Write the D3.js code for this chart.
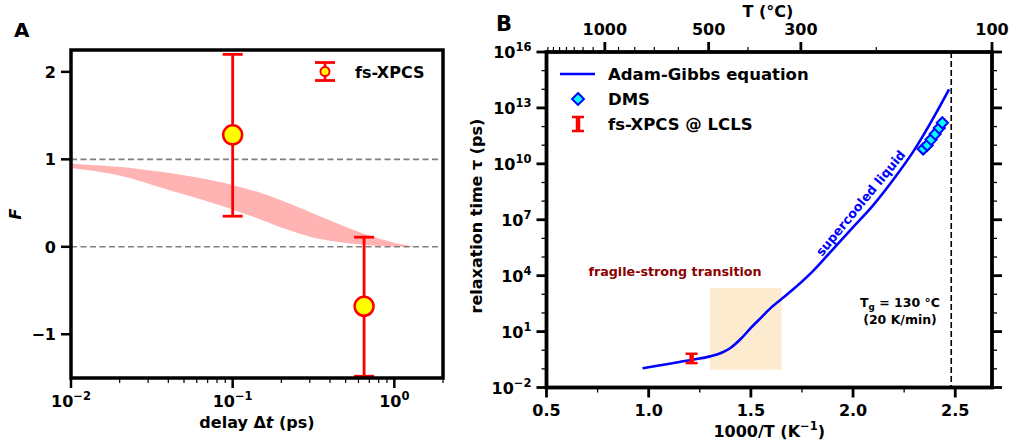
<!DOCTYPE html>
<html>
<head>
<meta charset="utf-8">
<script src="https://cdn.jsdelivr.net/npm/d3@7"></script>
<style>
  body { margin: 0; background: #fff; }
  svg text { font-family: "DejaVu Sans", sans-serif; font-weight: bold; fill: #000; }
</style>
</head>
<body>
<svg id="chart" width="1012" height="446"></svg>
<script>
// ---- panel A data ----
const bandDelay = [0.01, 0.02, 0.035, 0.05, 0.07, 0.1, 0.15, 0.22, 0.3, 0.45, 0.7, 1.0, 1.18, 1.35];
const bandUpper = [0.95, 0.92, 0.86, 0.82, 0.77, 0.71, 0.62, 0.50, 0.40, 0.26, 0.12, 0.045, 0.02, 0.0];
const bandLower = [0.90, 0.83, 0.68, 0.60, 0.52, 0.43, 0.31, 0.19, 0.11, 0.05, 0.013, 0.003, 0.0, 0.0];
const xpcsDelay = [0.1, 0.65];
const xpcsF = [1.28, -0.68];
const xpcsLow = [0.35, -1.48];
const xpcsHigh = [2.2, 0.11];
const fTicks = [-1, 0, 1, 2];
const delayTicks = [0.01, 0.1, 1];
const delayExp = ["−2", "−1", "0"];

// ---- panel B data ----
const agInvT = [0.97, 1.05, 1.15, 1.22, 1.3, 1.36, 1.4, 1.45, 1.5, 1.55, 1.6, 1.65, 1.7, 1.8, 1.9, 2.0, 2.1, 2.2, 2.3, 2.4, 2.47];
const agLogTau = [-0.97, -0.82, -0.63, -0.5, -0.33, -0.12, 0.12, 0.6, 1.2, 1.75, 2.3, 2.75, 3.2, 4.2, 5.4, 6.6, 7.8, 9.2, 10.75, 12.6, 14.0];
const dmsInvT = [2.343, 2.363, 2.382, 2.402, 2.422, 2.437];
const dmsLogTau = [10.8, 11.0, 11.3, 11.6, 11.92, 12.2];
const lclsInvT = [1.21];
const lclsLogTau = [-0.44];
const lclsLow = [-0.69];
const lclsHigh = [-0.19];
const tauExp = [-2, 1, 4, 7, 10, 13, 16];
const invTTicks = [0.5, 1.0, 1.5, 2.0, 2.5];
const invTMinor = [0.75, 1.25, 1.75, 2.25];
const tempTicks = [1000, 500, 300, 100];
const tempMinor = [1700, 1600, 1500, 1400, 1300, 1200, 1100, 900, 800, 700, 600, 400, 200];
const boxInvT = [1.3, 1.65];
const boxLogTau = [-1.05, 3.35];
const tgCelsius = 130;

const svg = d3.select("svg#chart");

/**
 * Writes "10" with a raised exponent into a text selection.
 */
function powLabel(sel, exp) {
  sel.text("10").append("tspan")
      .attr("dy", -7)
      .attr("font-size", "0.72em")
      .text(exp);
}

// ================= panel A =================
const a = {left: 71, right: 443, top: 50, bottom: 378};
const xA = d3.scaleLog().domain([0.01, 2]).range([a.left, a.right]);
const yA = d3.scaleLinear().domain([-1.5, 2.25]).range([a.bottom, a.top]);
const gA = svg.append("g");

const band = d3.area()
    .x((d, i) => xA(bandDelay[i]))
    .y0((d, i) => yA(bandLower[i]))
    .y1((d, i) => yA(bandUpper[i]))
    .curve(d3.curveBasis);
gA.append("path").datum(bandDelay)
    .attr("fill", "#ffb3b3")
    .attr("d", band);

[0, 1].forEach((v) => {
  gA.append("line")
      .attr("x1", a.left).attr("x2", a.right)
      .attr("y1", yA(v)).attr("y2", yA(v))
      .attr("stroke", "#808080").attr("stroke-width", 1.6)
      .attr("stroke-dasharray", "6,3.5");
});

xpcsDelay.forEach((t, i) => {
  const cx = xA(t);
  gA.append("line")
      .attr("x1", cx).attr("x2", cx)
      .attr("y1", yA(xpcsLow[i])).attr("y2", yA(xpcsHigh[i]))
      .attr("stroke", "red").attr("stroke-width", 2.8);
  [xpcsLow[i], xpcsHigh[i]].forEach((v) => {
    gA.append("line")
        .attr("x1", cx - 10).attr("x2", cx + 10)
        .attr("y1", yA(v)).attr("y2", yA(v))
        .attr("stroke", "red").attr("stroke-width", 2.8);
  });
  gA.append("circle")
      .attr("cx", cx).attr("cy", yA(xpcsF[i])).attr("r", 9.5)
      .attr("fill", "yellow").attr("stroke", "red").attr("stroke-width", 2.5);
});

// axes A
gA.append("rect")
    .attr("x", a.left).attr("y", a.top)
    .attr("width", a.right - a.left).attr("height", a.bottom - a.top)
    .attr("fill", "none").attr("stroke", "#000").attr("stroke-width", 3.5);

fTicks.forEach((v) => {
  gA.append("line")
      .attr("x1", a.left - 10).attr("x2", a.left)
      .attr("y1", yA(v)).attr("y2", yA(v))
      .attr("stroke", "#000").attr("stroke-width", 2.5);
  gA.append("text")
      .attr("x", a.left - 15).attr("y", yA(v) + 6)
      .attr("text-anchor", "end").attr("font-size", 16)
      .text(v < 0 ? "−" + (-v) : v);
});

const minorDelay = [];
[0.01, 0.1, 1].forEach((dec) => {
  for (let k = 2; k <= 9; k++) {
    if (dec * k <= 2) minorDelay.push(dec * k);
  }
});
minorDelay.forEach((t) => {
  gA.append("line")
      .attr("x1", xA(t)).attr("x2", xA(t))
      .attr("y1", a.bottom).attr("y2", a.bottom + 5)
      .attr("stroke", "#000").attr("stroke-width", 1.2);
});
delayTicks.forEach((t, i) => {
  gA.append("line")
      .attr("x1", xA(t)).attr("x2", xA(t))
      .attr("y1", a.bottom).attr("y2", a.bottom + 10)
      .attr("stroke", "#000").attr("stroke-width", 2.5);
  gA.append("text")
      .attr("x", xA(t)).attr("y", a.bottom + 29)
      .attr("text-anchor", "middle").attr("font-size", 16)
      .call(powLabel, delayExp[i]);
});

const xLabA = gA.append("text")
    .attr("x", (a.left + a.right) / 2).attr("y", 428)
    .attr("text-anchor", "middle").attr("font-size", 16)
    .text("delay Δ");
xLabA.append("tspan").attr("font-style", "italic").text("t");
xLabA.append("tspan").text(" (ps)");

gA.append("text")
    .attr("transform", "translate(21," + ((a.top + a.bottom) / 2) + ") rotate(-90)")
    .attr("text-anchor", "middle").attr("font-size", 16)
    .attr("font-style", "italic")
    .text("F");

// legend A
const lgA = {x: 325, y: 71.5};
gA.append("line")
    .attr("x1", lgA.x).attr("x2", lgA.x)
    .attr("y1", lgA.y - 9).attr("y2", lgA.y + 9)
    .attr("stroke", "red").attr("stroke-width", 2.8);
[-9, 9].forEach((o) => {
  gA.append("line")
      .attr("x1", lgA.x - 10).attr("x2", lgA.x + 10)
      .attr("y1", lgA.y + o).attr("y2", lgA.y + o)
      .attr("stroke", "red").attr("stroke-width", 2.8);
});
gA.append("circle")
    .attr("cx", lgA.x).attr("cy", lgA.y).attr("r", 4.5)
    .attr("fill", "yellow").attr("stroke", "red").attr("stroke-width", 2);
gA.append("text")
    .attr("x", 355).attr("y", 77.5).attr("font-size", 16)
    .text("fs-XPCS");

gA.append("text")
    .attr("x", 14).attr("y", 37).attr("font-size", 20)
    .text("A");

// ================= panel B =================
const b = {left: 546.5, right: 992, top: 52, bottom: 387.5};
const xB = d3.scaleLinear().domain([0.5, 1000 / 373.15]).range([b.left, b.right]);
const yB = d3.scaleLog().domain([1e-2, 1e16]).range([b.bottom, b.top]);
const gB = svg.append("g");
const p10 = (v) => Math.pow(10, v);

gB.append("rect")
    .attr("x", xB(boxInvT[0])).attr("y", yB(p10(boxLogTau[1])))
    .attr("width", xB(boxInvT[1]) - xB(boxInvT[0]))
    .attr("height", yB(p10(boxLogTau[0])) - yB(p10(boxLogTau[1])))
    .attr("fill", "#fdebcf");

const tgX = xB(1000 / (tgCelsius + 273.15));
gB.append("line")
    .attr("x1", tgX).attr("x2", tgX)
    .attr("y1", b.top).attr("y2", b.bottom)
    .attr("stroke", "#000").attr("stroke-width", 1.6)
    .attr("stroke-dasharray", "6,3");

const agLine = d3.line()
    .x((d, i) => xB(agInvT[i]))
    .y((d, i) => yB(p10(agLogTau[i])))
    .curve(d3.curveMonotoneX);
gB.append("path").datum(agInvT)
    .attr("fill", "none").attr("stroke", "#0000ff").attr("stroke-width", 2.6)
    .attr("d", agLine);

const diamond = d3.symbol().type(d3.symbolDiamond2).size(80);
dmsInvT.forEach((x, i) => {
  gB.append("path")
      .attr("d", diamond)
      .attr("transform", "translate(" + xB(x) + "," + yB(p10(dmsLogTau[i])) + ")")
      .attr("fill", "#00ffff").attr("stroke", "#0000ff").attr("stroke-width", 2);
});

lclsInvT.forEach((x, i) => {
  const cx = xB(x);
  const y0 = yB(p10(lclsLow[i]));
  const y1 = yB(p10(lclsHigh[i]));
  gB.append("line")
      .attr("x1", cx).attr("x2", cx).attr("y1", y0).attr("y2", y1)
      .attr("stroke", "red").attr("stroke-width", 4.5);
  [y0, y1].forEach((yy) => {
    gB.append("line")
        .attr("x1", cx - 6).attr("x2", cx + 6).attr("y1", yy).attr("y2", yy)
        .attr("stroke", "red").attr("stroke-width", 2.5);
  });
});

// axes B
gB.append("rect")
    .attr("x", b.left).attr("y", b.top)
    .attr("width", b.right - b.left).attr("height", b.bottom - b.top)
    .attr("fill", "none").attr("stroke", "#000").attr("stroke-width", 3.8);

d3.range(-2, 17).forEach((e) => {
  const major = tauExp.includes(e);
  const len = major ? 10 : 5;
  const yy = yB(p10(e));
  [[b.left - len, b.left], [b.right, b.right + len]].forEach(([x1, x2]) => {
    gB.append("line")
        .attr("x1", x1).attr("x2", x2).attr("y1", yy).attr("y2", yy)
        .attr("stroke", "#000").attr("stroke-width", major ? 2.8 : 1.3);
  });
});
tauExp.forEach((e) => {
  gB.append("text")
      .attr("x", b.left - 15).attr("y", yB(p10(e)) + 6)
      .attr("text-anchor", "end").attr("font-size", 16)
      .call(powLabel, e < 0 ? "−" + (-e) : String(e));
});

invTMinor.forEach((v) => {
  gB.append("line")
      .attr("x1", xB(v)).attr("x2", xB(v))
      .attr("y1", b.bottom).attr("y2", b.bottom + 5)
      .attr("stroke", "#000").attr("stroke-width", 1.3);
});
invTTicks.forEach((v) => {
  gB.append("line")
      .attr("x1", xB(v)).attr("x2", xB(v))
      .attr("y1", b.bottom).attr("y2", b.bottom + 10)
      .attr("stroke", "#000").attr("stroke-width", 2.8);
  gB.append("text")
      .attr("x", xB(v)).attr("y", b.bottom + 28)
      .attr("text-anchor", "middle").attr("font-size", 16)
      .text(d3.format(".1f")(v));
});

// top temperature axis
tempMinor.forEach((t) => {
  const xx = xB(1000 / (t + 273.15));
  gB.append("line")
      .attr("x1", xx).attr("x2", xx)
      .attr("y1", b.top - 5).attr("y2", b.top)
      .attr("stroke", "#000").attr("stroke-width", 1.2);
});
tempTicks.forEach((t) => {
  const xx = xB(1000 / (t + 273.15));
  gB.append("line")
      .attr("x1", xx).attr("x2", xx)
      .attr("y1", b.top - 10).attr("y2", b.top)
      .attr("stroke", "#000").attr("stroke-width", 2.8);
  gB.append("text")
      .attr("x", xx).attr("y", 34.5)
      .attr("text-anchor", "middle").attr("font-size", 16)
      .text(t);
});
gB.append("text")
    .attr("x", 768).attr("y", 17).attr("text-anchor", "middle")
    .attr("font-size", 16).text("T (°C)");

const xLabB = gB.append("text")
    .attr("x", (b.left + b.right) / 2).attr("y", 437)
    .attr("text-anchor", "middle").attr("font-size", 16)
    .text("1000/T (K");
xLabB.append("tspan").attr("dy", -7).attr("font-size", "0.72em").text("−1");
xLabB.append("tspan").attr("dy", 7).text(")");

gB.append("text")
    .attr("transform", "translate(482,216) rotate(-90)")
    .attr("text-anchor", "middle").attr("font-size", 16)
    .text("relaxation time τ (ps)");

gB.append("text")
    .attr("x", 675).attr("y", 276).attr("text-anchor", "middle")
    .attr("font-size", 12.7).style("fill", "#8b0000")
    .text("fragile-strong transition");

gB.append("text")
    .attr("transform", "translate(864,206) rotate(-50.5)")
    .attr("text-anchor", "middle").attr("font-size", 12.7)
    .style("fill", "#0000ff")
    .text("supercooled liquid");

const tgLab = gB.append("text")
    .attr("x", 900).attr("y", 307).attr("text-anchor", "middle")
    .attr("font-size", 12.5).text("T");
tgLab.append("tspan").attr("dy", 3).attr("font-size", "0.7em").text("g");
tgLab.append("tspan").attr("dy", -3).text(" = 130 °C");
gB.append("text")
    .attr("x", 900).attr("y", 324).attr("text-anchor", "middle")
    .attr("font-size", 12.5).text("(20 K/min)");

// legend B
gB.append("line")
    .attr("x1", 560).attr("x2", 595).attr("y1", 74).attr("y2", 74)
    .attr("stroke", "#0000ff").attr("stroke-width", 2.6);
gB.append("text").attr("x", 608).attr("y", 80).attr("font-size", 16.5)
    .text("Adam-Gibbs equation");
gB.append("path")
    .attr("d", d3.symbol().type(d3.symbolDiamond2).size(90))
    .attr("transform", "translate(578,99)")
    .attr("fill", "#00ffff").attr("stroke", "#0000ff").attr("stroke-width", 2);
gB.append("text").attr("x", 608).attr("y", 105).attr("font-size", 16.5)
    .text("DMS");
gB.append("line")
    .attr("x1", 578).attr("x2", 578).attr("y1", 117).attr("y2", 131)
    .attr("stroke", "red").attr("stroke-width", 4.5);
[117, 131].forEach((yy) => {
  gB.append("line")
      .attr("x1", 572).attr("x2", 584).attr("y1", yy).attr("y2", yy)
      .attr("stroke", "red").attr("stroke-width", 2.5);
});
gB.append("text").attr("x", 608).attr("y", 130).attr("font-size", 16.5)
    .text("fs-XPCS @ LCLS");

gB.append("text")
    .attr("x", 496).attr("y", 30.5).attr("font-size", 21)
    .text("B");
</script>
</body>
</html>
